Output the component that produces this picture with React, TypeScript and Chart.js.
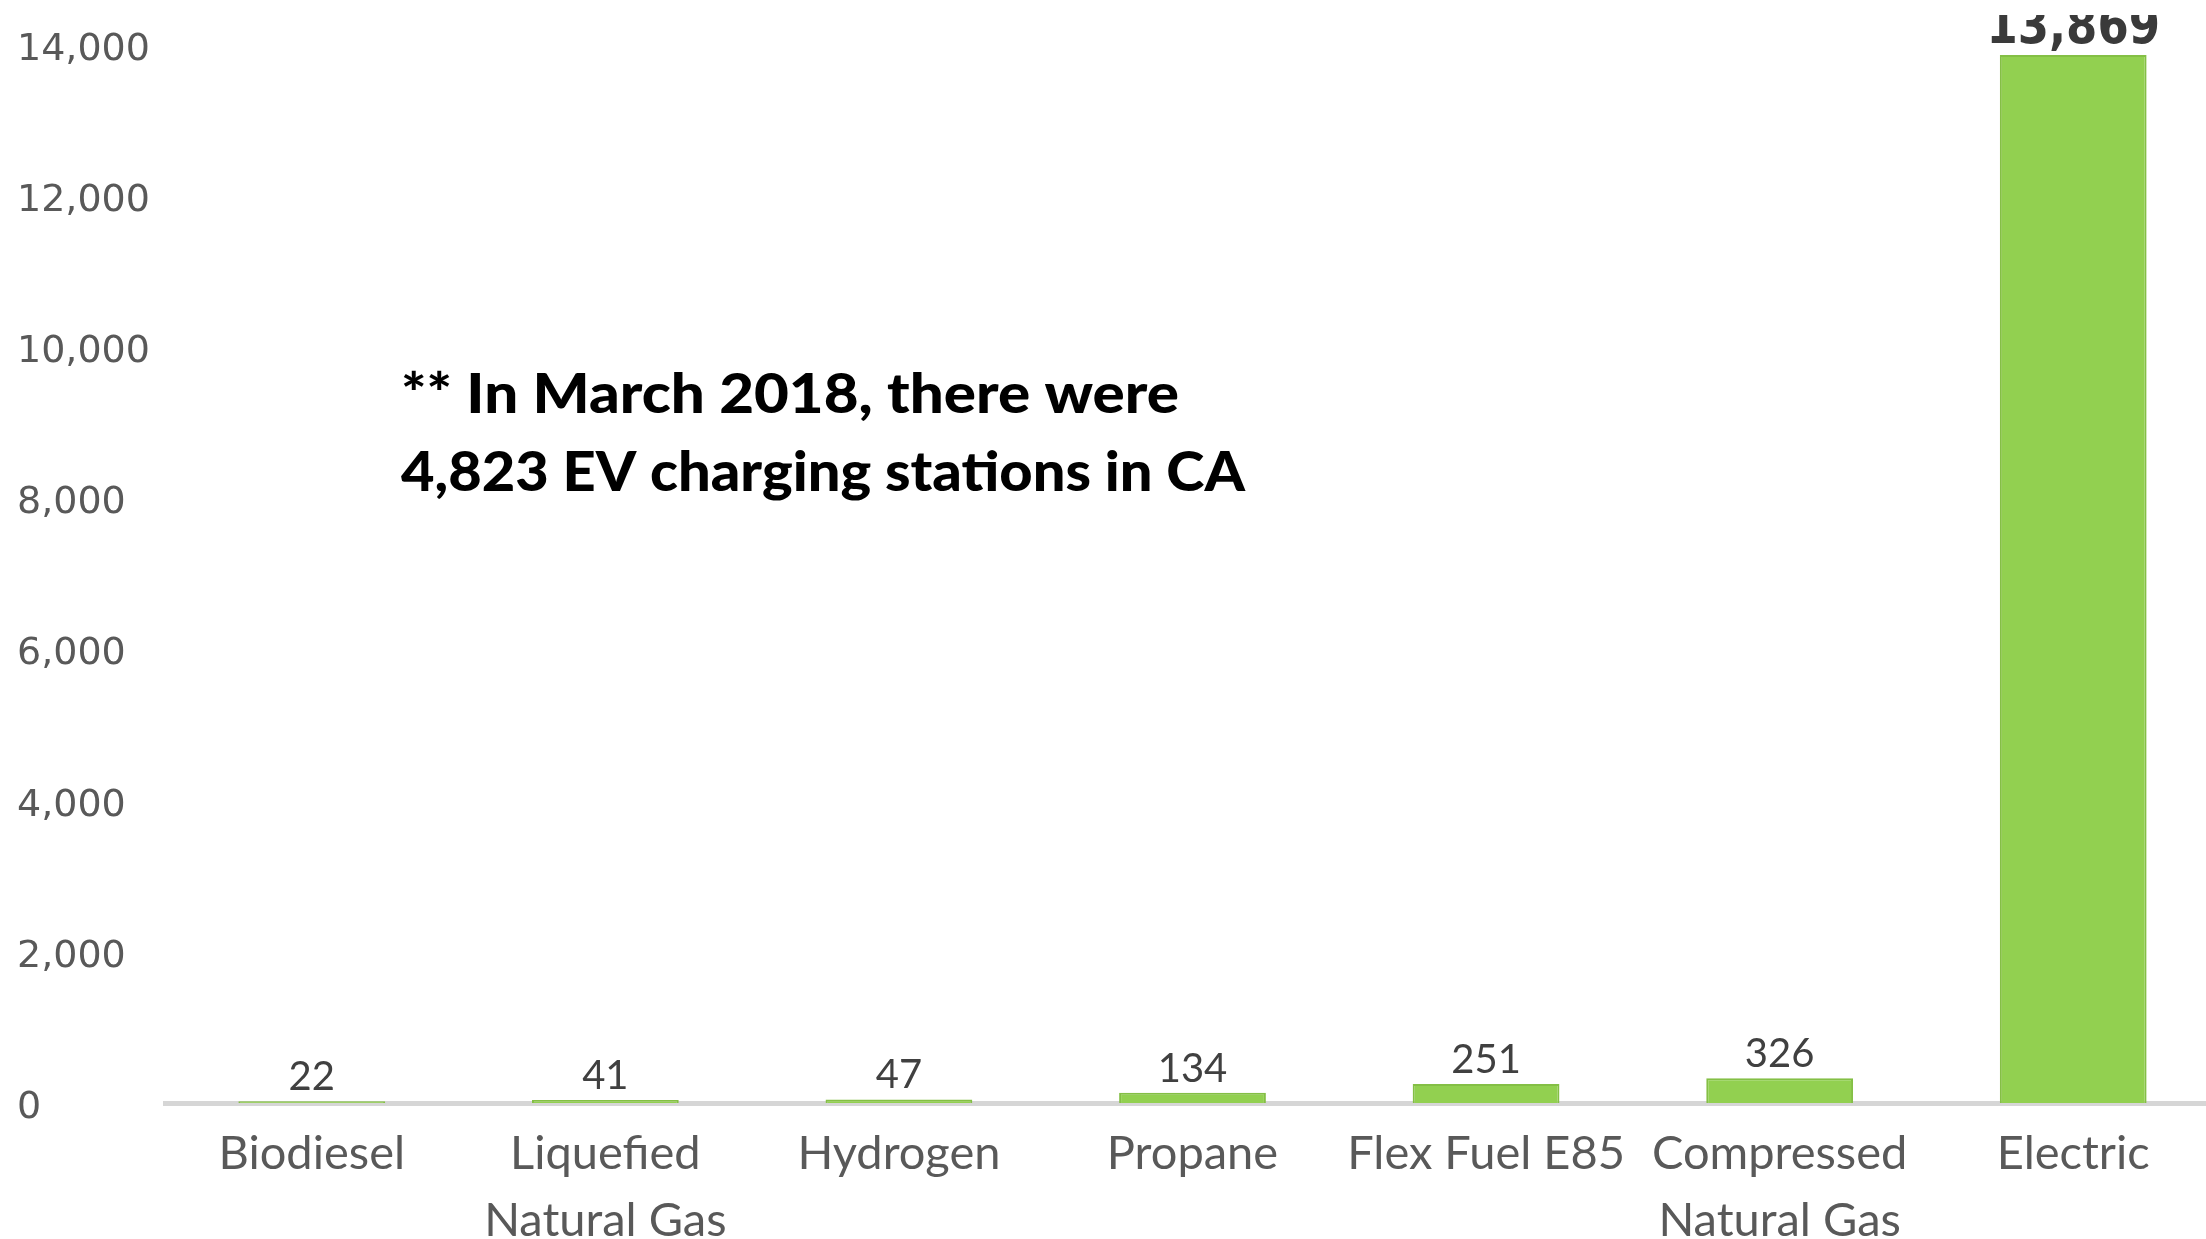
import React, { useEffect, useRef } from 'react';
import { Chart, registerables } from 'chart.js';

Chart.register(...registerables);

const categories: (string | string[])[] = [
  'Biodiesel',
  ['Liquefied', 'Natural Gas'],
  'Hydrogen',
  'Propane',
  'Flex Fuel E85',
  ['Compressed', 'Natural Gas'],
  'Electric',
];
const stationCounts = [22, 41, 47, 134, 251, 326, 13869];
const yMax = 14000;
const yStep = 2000;
const noteLines = ['** In March 2018, there were', '4,823 EV charging stations in CA'];
const noteWidths = [778, 844];

const fmt = (v: number) => v.toLocaleString('en-US');

const valueLabelPlugin = {
  id: 'valueLabels',
  afterDatasetsDraw(chart: any) {
    const ctx = chart.ctx as CanvasRenderingContext2D;
    const meta = chart.getDatasetMeta(0);
    ctx.save();
    ctx.textAlign = 'center';
    ctx.textBaseline = 'alphabetic';
    meta.data.forEach((bar: any, i: number) => {
      const v = stationCounts[i];
      const last = i === stationCounts.length - 1;
      if (last) {
        ctx.save();
        ctx.beginPath();
        ctx.rect(bar.x - 150, 15, 300, 200);
        ctx.clip();
        ctx.font = 'bold 45px "DejaVu Sans"';
        ctx.fillStyle = '#3a3a3a';
        ctx.translate(bar.x, bar.y - 12);
        ctx.scale(1, 1.2);
        ctx.fillText(fmt(v), 0, 0);
        ctx.restore();
      } else {
        ctx.font = '40px Lato';
        ctx.fillStyle = '#404040';
        ctx.fillText(fmt(v), bar.x, bar.y - 11);
      }
    });
    ctx.restore();
  },
};

const notePlugin = {
  id: 'note',
  afterDraw(chart: any) {
    const ctx = chart.ctx as CanvasRenderingContext2D;
    ctx.save();
    ctx.font = '900 56px Lato';
    ctx.fillStyle = '#000000';
    ctx.textAlign = 'left';
    ctx.textBaseline = 'middle';
    const ys = [395, 473];
    noteLines.forEach((line, i) => {
      const w = ctx.measureText(line).width;
      const sx = noteWidths[i] / w;
      ctx.save();
      ctx.translate(401, ys[i]);
      ctx.scale(sx, 1);
      ctx.fillText(line, 0, 0);
      ctx.restore();
    });
    ctx.restore();
  },
};

export default function App() {
  const ref = useRef<HTMLCanvasElement | null>(null);
  useEffect(() => {
    if (!ref.current) return;
    const chart = new Chart(ref.current, {
      type: 'bar',
      data: {
        labels: categories as any,
        datasets: [
          {
            data: stationCounts,
            backgroundColor: '#92d050',
            borderColor: '#84bf45',
            borderWidth: 2,
            barPercentage: 0.5,
            categoryPercentage: 1,
          },
        ],
      },
      options: {
        responsive: false,
        animation: false,
        devicePixelRatio: 1,
        layout: { padding: { left: 17, top: 45, right: 20, bottom: 0 } },
        plugins: {
          legend: { display: false },
          tooltip: { enabled: false },
          title: { display: false },
        },
        scales: {
          x: {
            grid: { display: false },
            border: { display: true, color: '#d6d6d6', width: 5 },
            ticks: {
              color: '#595959',
              font: { family: 'Lato', size: 47, lineHeight: 1.43 },
              padding: 9,
              autoSkip: false,
              maxRotation: 0,
              minRotation: 0,
            },
            afterFit(scale: any) {
              scale.height = 136;
            },
          },
          y: {
            min: 0,
            max: yMax,
            grid: { display: false },
            border: { display: false },
            ticks: {
              stepSize: yStep,
              color: '#595959',
              font: { family: '"DejaVu Sans"', size: 38 },
              crossAlign: 'far',
              padding: 0,
              labelOffset: 5,
              callback: (v: any) => fmt(Number(v)),
            },
            afterFit(scale: any) {
              scale.width = 148;
            },
          },
        },
      },
      plugins: [valueLabelPlugin, notePlugin],
    });
    return () => chart.destroy();
  }, []);

  return (
    <div
      style={{
        position: 'fixed',
        left: 0,
        top: 0,
        width: 2206,
        height: 1239,
        overflow: 'hidden',
        background: '#ffffff',
      }}
    >
      <canvas ref={ref} width={2240} height={1239} style={{ width: 2240, height: 1239, display: 'block' }} />
    </div>
  );
}
